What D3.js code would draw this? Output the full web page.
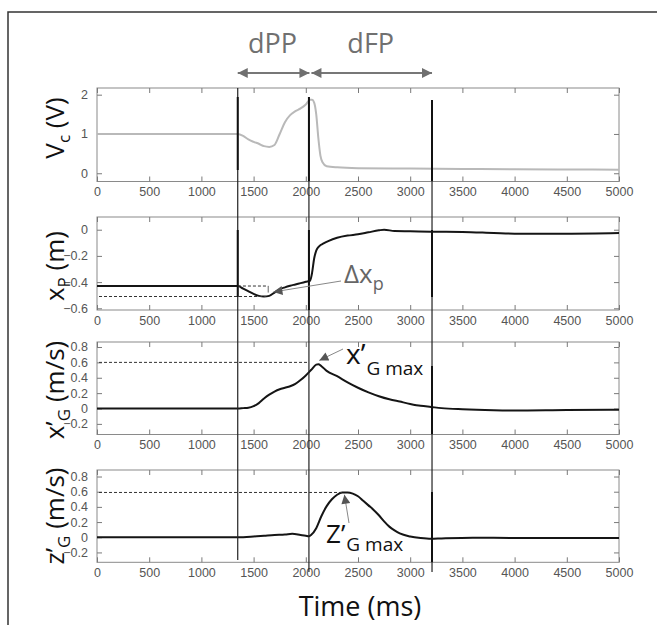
<!DOCTYPE html>
<html><head><meta charset="utf-8">
<script src="https://cdn.jsdelivr.net/npm/d3@7"></script>
<style>
body{margin:0;background:#fff}
.tick text{font-family:"Liberation Sans Narrow","Arial Narrow","Liberation Sans",sans-serif;font-size:12.5px;fill:#555}
.lab{font-family:"Open Sans",sans-serif}
</style></head><body>
<svg id="c" width="657" height="625"></svg>
<script>
// ---- data ----
const xTickValues=[0,500,1000,1500,2000,2500,3000,3500,4000,4500,5000];
const eventTimes=[1348,2030,3209];
const phaseLabels=["dPP","dFP"];

const vcTime=[0,500,1000,1350,1400,1450,1500,1550,1600,1650,1700,1750,1800,1850,1900,1950,2000,2040,2060,2080,2100,2120,2140,2160,2200,2300,2500,3000,3500,4000,4500,5000];
const vcValue=[1.0,1.0,1.0,1.0,0.95,0.86,0.8,0.75,0.69,0.67,0.72,1.0,1.3,1.48,1.58,1.65,1.75,1.87,1.87,1.8,1.5,0.9,0.45,0.28,0.18,0.15,0.13,0.12,0.11,0.1,0.095,0.09];

const xpTime=[0,500,1000,1350,1400,1450,1500,1550,1600,1650,1700,1750,1800,1850,1900,1950,2000,2040,2060,2080,2100,2130,2170,2220,2300,2400,2500,2600,2700,2750,2850,3000,3200,3500,3800,4000,4500,5000];
const xpValue=[-0.43,-0.43,-0.43,-0.43,-0.45,-0.47,-0.49,-0.505,-0.51,-0.505,-0.48,-0.455,-0.44,-0.428,-0.418,-0.408,-0.398,-0.39,-0.33,-0.22,-0.16,-0.125,-0.105,-0.085,-0.062,-0.045,-0.035,-0.02,-0.005,0.0,-0.01,-0.012,-0.015,-0.017,-0.025,-0.03,-0.03,-0.025];

const xgTime=[0,500,1000,1350,1400,1450,1500,1550,1600,1650,1700,1750,1800,1850,1900,1950,2000,2050,2100,2120,2150,2200,2300,2400,2500,2600,2700,2800,2900,3000,3100,3200,3300,3500,3800,4000,4500,5000];
const xgValue=[0.0,0.0,0.0,0.0,0.005,0.01,0.03,0.07,0.13,0.18,0.22,0.25,0.27,0.29,0.32,0.37,0.43,0.5,0.57,0.575,0.55,0.49,0.42,0.34,0.27,0.21,0.16,0.12,0.09,0.06,0.035,0.02,0.005,-0.01,-0.022,-0.025,-0.018,-0.015];

const zgTime=[0,500,1000,1350,1500,1600,1700,1800,1870,1950,2000,2030,2050,2100,2150,2200,2250,2300,2350,2400,2450,2500,2550,2600,2650,2700,2750,2800,2850,2900,3000,3100,3200,3300,3600,4000,4500,5000];
const zgValue=[0.0,0.0,0.0,0.0,0.01,0.02,0.03,0.035,0.045,0.03,0.02,0.012,0.03,0.12,0.28,0.41,0.5,0.56,0.59,0.59,0.575,0.54,0.48,0.42,0.36,0.29,0.21,0.14,0.09,0.05,0.01,-0.01,-0.02,-0.015,-0.005,-0.01,-0.01,-0.01];

const vcTicks=[0,1,2];
const xpTicks=[-0.6,-0.4,-0.2,0];
const velTicks=[-0.2,0,0.2,0.4,0.6,0.8];

// ---- layout ----
const svg=d3.select("#c");
const X0=97,X1=619;
const x=d3.scaleLinear().domain([0,5000]).range([X0,X1]);

// outer frame (top and left)
svg.append("path").attr("d","M8,625 L8,12 L657,12").attr("fill","none").attr("stroke","#333").attr("stroke-width",1.5);

const panels=[
 {top:88,h:93.5,dom:[-0.21,2.17],ticks:vcTicks,t:vcTime,v:vcValue,color:"#b9b9b9",lab:["V","c"," (V)"],labY:128},
 {top:217,h:93,dom:[-0.613,0.097],ticks:xpTicks,t:xpTime,v:xpValue,color:"#151515",lab:["x","P"," (m)"],labY:266},
 {top:342,h:92.5,dom:[-0.338,0.865],ticks:velTicks,t:xgTime,v:xgValue,color:"#151515",lab:["x\u2019","G"," (m/s)"],labY:390},
 {top:470,h:92.3,dom:[-0.33,0.886],ticks:velTicks,t:zgTime,v:zgValue,color:"#151515",lab:["z\u2019","G"," (m/s)"],labY:516}
];
const fmt=d=>d===0?"0":d3.format("")(+d.toFixed(1));

panels.forEach((p,i)=>{
  const y=d3.scaleLinear().domain(p.dom).range([p.top+p.h,p.top]);
  p.y=y;
  const g=svg.append("g");
  g.append("rect").attr("x",X0).attr("y",p.top).attr("width",X1-X0).attr("height",p.h).attr("fill","none").attr("stroke","#8a8a8a").attr("stroke-width",1);
  const ab=g.append("g").attr("transform",`translate(0,${p.top+p.h})`).call(d3.axisBottom(x).tickValues(xTickValues).tickSize(-5).tickPadding(9).tickFormat(d3.format("")));
  const at=g.append("g").attr("transform",`translate(0,${p.top})`).call(d3.axisTop(x).tickValues(xTickValues).tickSize(-5).tickFormat(""));
  const al=g.append("g").attr("transform",`translate(${X0},0)`).call(d3.axisLeft(y).tickValues(p.ticks).tickSize(-5).tickPadding(9).tickFormat(fmt));
  const ar=g.append("g").attr("transform",`translate(${X1},0)`).call(d3.axisRight(y).tickValues(p.ticks).tickSize(-5).tickFormat(""));
  [ab,at,al,ar].forEach(a=>{a.select(".domain").remove();a.selectAll(".tick line").attr("stroke","#7a7a7a");});
  ab.selectAll(".tick text").attr("dy","0.45em");
  const line=d3.line().x(d=>x(d[0])).y(d=>y(d[1])).curve(d3.curveMonotoneX);
  g.append("path").datum(p.t.map((t,k)=>[t,p.v[k]])).attr("d",line).attr("fill","none").attr("stroke",p.color).attr("stroke-width",2);
  const tx=svg.append("text").attr("class","lab").attr("transform",`translate(64,${p.labY}) rotate(-90)`).attr("text-anchor","middle").attr("font-size",26).attr("fill","#111");
  tx.append("tspan").text(p.lab[0]);
  tx.append("tspan").attr("font-size",17).attr("dy",6).text(p.lab[1]);
  tx.append("tspan").attr("dy",-6).text(p.lab[2]);
});

// vertical event lines
const vStart=[88,97,100],vEnd=[560,572,572];
eventTimes.forEach((t,i)=>{
  svg.append("line").attr("x1",x(t)).attr("x2",x(t)).attr("y1",vStart[i]).attr("y2",vEnd[i]).attr("stroke","#222").attr("stroke-width",1.2);
});
[[0,97,170],[1,97,181],[2,100,181],[0,230,297],[1,230,310],[2,230,297],[2,366,434],[2,492,562]].forEach(s=>{
  svg.append("line").attr("x1",x(eventTimes[s[0]])).attr("x2",x(eventTimes[s[0]])).attr("y1",s[1]).attr("y2",s[2]).attr("stroke","#111").attr("stroke-width",2);
});

// phase arrows
const defs=svg.append("defs");
function marker(id,color,w,h){
  defs.append("marker").attr("id",id).attr("viewBox","0 0 10 10").attr("refX",10).attr("refY",5)
   .attr("markerWidth",w).attr("markerHeight",h).attr("markerUnits","userSpaceOnUse").attr("orient","auto-start-reverse")
   .append("path").attr("d","M0,0 L10,5 L0,10 Z").attr("fill",color);
}
marker("ph","#6f6f6f",12,10);
marker("an","#555",13,9);
const ay=73;
const seg=[[eventTimes[0],eventTimes[1]],[eventTimes[1],eventTimes[2]]];
seg.forEach((s,i)=>{
  const xa=x(s[0])+(i===1?2.5:0), xb=x(s[1])+(i===0?0.5:0);
  svg.append("line").attr("x1",xa).attr("x2",xb).attr("y1",ay).attr("y2",ay).attr("stroke","#777").attr("stroke-width",1.8)
    .attr("marker-start","url(#ph)").attr("marker-end","url(#ph)");
  svg.append("text").attr("class","lab").attr("x",(xa+xb)/2-1).attr("y",53).attr("text-anchor","middle").attr("font-size",27).attr("fill","#707070").text(phaseLabels[i]);
});

// annotations panel 2
const p2=panels[1];
svg.append("line").attr("x1",x(1350)).attr("x2",x(1640)).attr("y1",p2.y(-0.43)).attr("y2",p2.y(-0.43)).attr("stroke","#333").attr("stroke-width",1).attr("stroke-dasharray","3,2");
svg.append("line").attr("x1",x(1640)).attr("x2",x(1640)).attr("y1",p2.y(-0.43)).attr("y2",p2.y(-0.48)).attr("stroke","#666").attr("stroke-width",1);
svg.append("line").attr("x1",X0+2).attr("x2",x(1620)).attr("y1",p2.y(-0.51)).attr("y2",p2.y(-0.51)).attr("stroke","#333").attr("stroke-width",1).attr("stroke-dasharray","3,2");
svg.append("line").attr("x1",341).attr("y1",281).attr("x2",x(1690)).attr("y2",p2.y(-0.475)).attr("stroke","#888").attr("stroke-width",1).attr("marker-end","url(#an)");
const dx=svg.append("text").attr("class","lab").attr("x",344).attr("y",283).attr("font-size",26).attr("fill","#666");
dx.append("tspan").text("\u0394x");
dx.append("tspan").attr("font-size",18).attr("dy",7).text("p");

// annotations panel 3
const p3=panels[2];
svg.append("line").attr("x1",X0+2).attr("x2",x(2030)).attr("y1",p3.y(0.6)).attr("y2",p3.y(0.6)).attr("stroke","#333").attr("stroke-width",1).attr("stroke-dasharray","3,2");
svg.append("line").attr("x1",343).attr("y1",349).attr("x2",x(2110)+2).attr("y2",p3.y(0.6)-2).attr("stroke","#888").attr("stroke-width",1).attr("marker-end","url(#an)");
const xa=svg.append("text").attr("class","lab").attr("x",346).attr("y",364).attr("font-size",28).attr("fill","#111");
xa.append("tspan").text("x\u2019");
xa.append("tspan").attr("font-size",19).attr("dx",1).attr("dy",11).text("G max");

// annotations panel 4
const p4=panels[3];
svg.append("line").attr("x1",X0+2).attr("x2",x(2360)).attr("y1",p4.y(0.59)).attr("y2",p4.y(0.59)).attr("stroke","#333").attr("stroke-width",1).attr("stroke-dasharray","3,2");
svg.append("line").attr("x1",349).attr("y1",523).attr("x2",x(2370)).attr("y2",p4.y(0.56)).attr("stroke","#888").attr("stroke-width",1).attr("marker-end","url(#an)");
const za=svg.append("text").attr("class","lab").attr("x",326).attr("y",543).attr("font-size",26).attr("fill","#111");
za.append("tspan").text("Z\u2019");
za.append("tspan").attr("font-size",19).attr("dx",1).attr("dy",8).text("G max");

// x axis title
svg.append("text").attr("class","lab").attr("x",360).attr("y",616).attr("text-anchor","middle").attr("font-size",27).attr("fill","#111").text("Time (ms)");
</script>
</body></html>
